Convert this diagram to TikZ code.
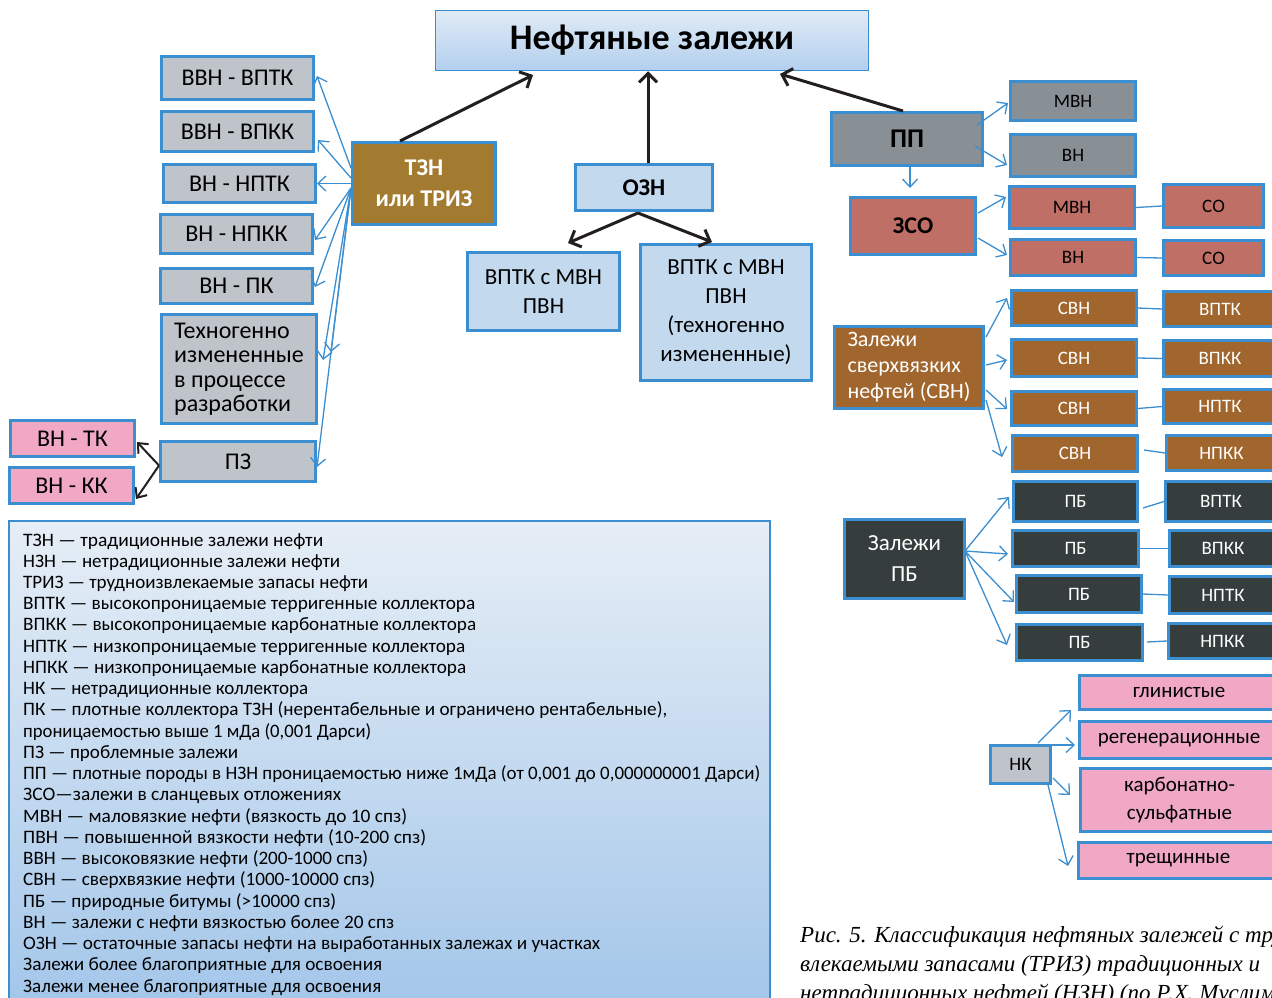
\documentclass[tikz,border=0pt]{standalone}
\usepackage{fontspec}
\usepackage{graphicx}
\setmainfont{Carlito}
\newfontfamily\capfont{Liberation Serif}
\usetikzlibrary{arrows.meta}
\definecolor{bord}{HTML}{3B8ED0}
\definecolor{grayf}{HTML}{BFC4CB}
\definecolor{tznf}{HTML}{A37B30}
\definecolor{lbf}{HTML}{C3D9EE}
\definecolor{ppf}{HTML}{888F95}
\definecolor{redf}{HTML}{C06F67}
\definecolor{brnf}{HTML}{A1662E}
\definecolor{pbf}{HTML}{353D3D}
\definecolor{pinkf}{HTML}{F0A8C4}
\definecolor{titletop}{HTML}{E0EBF6}
\definecolor{titlebot}{HTML}{B3CFEE}
\definecolor{legtop}{HTML}{E6EEF6}
\definecolor{legbot}{HTML}{A3C6EA}
\definecolor{arrk}{HTML}{231F20}
\newcommand\legfont{\fontsize{19}{21}\selectfont}
\newcommand\legl[3]{\node[anchor=base west, inner sep=0pt] (l#1) at (23,{546+21.24*(#1-1)}) {\resizebox{\dimexpr#2pt-23pt\relax}{\height}{\legfont #3}};}
\begin{document}
\begin{tikzpicture}[x=1pt,y=-1pt,
  bx/.style={draw=bord, line width=3pt, inner sep=0pt, align=center, font=\fontsize{24}{27}\selectfont},
  sm/.style={bx, font=\fontsize{19}{22}\selectfont},
  gbox/.style={bx, fill=grayf},
  lbox/.style={bx, fill=lbf, font=\fontsize{23}{29}\selectfont},
  barr/.style={draw=bord, line width=1.3pt, -{Straight Barb[length=8pt,width=15pt,line width=1.3pt]}},
  karr/.style={draw=arrk, line width=3pt, -{Straight Barb[length=9pt,width=18pt,line width=3pt]}},
  kthin/.style={draw=arrk, line width=2pt, -{Straight Barb[length=8pt,width=14pt,line width=2pt]}},
  conn/.style={draw=bord, line width=1.3pt},
  wh/.style={text=white}
]
\useasboundingbox (0,0) rectangle (1272,997);
\clip (0,0) rectangle (1272,997);

% legend panel
\shade[top color=legtop, bottom color=legbot, draw=bord, line width=1.2pt] (9,521) rectangle (770,1010);
\legl{1}{323}{ТЗН — традиционные залежи нефти}
\legl{2}{340}{НЗН — нетрадиционные залежи нефти}
\legl{3}{368}{ТРИЗ — трудноизвлекаемые запасы нефти}
\legl{4}{475}{ВПТК — высокопроницаемые терригенные коллектора}
\legl{5}{476}{ВПКК — высокопроницаемые карбонатные коллектора}
\legl{6}{465}{НПТК — низкопроницаемые терригенные коллектора}
\legl{7}{466}{НПКК — низкопроницаемые карбонатные коллектора}
\legl{8}{308}{НК — нетрадиционные коллектора}
\legl{9}{667}{ПК — плотные коллектора ТЗН (нерентабельные и ограничено рентабельные),}
\legl{10}{371}{проницаемостью выше 1 мДа (0,001 Дарси)}
\legl{11}{238}{ПЗ — проблемные залежи}
\legl{12}{760}{ПП — плотные породы в НЗН проницаемостью ниже 1мДа (от 0,001 до 0,000000001 Дарси)}
\legl{13}{341}{ЗСО—залежи в сланцевых отложениях}
\legl{14}{407}{МВН — маловязкие нефти (вязкость до 10 спз)}
\legl{15}{426}{ПВН — повышенной вязкости нефти (10-200 спз)}
\legl{16}{368}{ВВН — высоковязкие нефти (200-1000 спз)}
\legl{17}{375}{СВН — сверхвязкие нефти (1000-10000 спз)}
\legl{18}{336}{ПБ — природные битумы (>10000 спз)}
\legl{19}{394}{ВН — залежи с нефти вязкостью более 20 спз}
\legl{20}{600}{ОЗН — остаточные запасы нефти на выработанных залежах и участках}
\legl{21}{382}{Залежи более благоприятные для освоения}
\legl{22}{381}{Залежи менее благоприятные для освоения}

% caption
\begin{scope}[every node/.style={anchor=base west, inner sep=0pt, font=\capfont\itshape\fontsize{23}{23}\selectfont}]
\node (cap1) at (800,942) {Рис. 5. Классификация нефтяных залежей с трудноиз-};
\node (cap2) at (800,971) {влекаемыми запасами (ТРИЗ) традиционных и};
\node (cap3) at (800,1000) {нетрадиционных нефтей (НЗН) (по Р.Х. Муслимову)};
\end{scope}

% title
\node[draw=bord, line width=1.5pt, top color=titletop, bottom color=titlebot, minimum width=433pt, minimum height=60pt, font=\bfseries\fontsize{36}{40}\selectfont] (title) at (652,40.5) {Нефтяные залежи};

% left column
\node[gbox, minimum width=152pt, minimum height=43pt] (vvn1) at (237.5,78) {ВВН - ВПТК};
\node[gbox, minimum width=152pt, minimum height=40pt] (vvn2) at (237.5,131.5) {ВВН - ВПКК};
\node[gbox, minimum width=152pt, minimum height=38pt] (vn3) at (239.5,183.5) {ВН - НПТК};
\node[gbox, minimum width=152pt, minimum height=39pt] (vn4) at (236.5,234) {ВН - НПКК};
\node[gbox, minimum width=152pt, minimum height=35pt] (vn5) at (236.5,286) {ВН - ПК};
\node[gbox, minimum width=155pt, minimum height=109pt, align=left, font=\fontsize{24}{24.5}\selectfont] (tech) at (239,369) {Техногенно\\измененные\\в процессе\\разработки};
\node[gbox, minimum width=155pt, minimum height=40pt] (pz) at (238,461.5) {ПЗ};
\node[bx, fill=pinkf, minimum width=124pt, minimum height=36pt] (vntk) at (72.5,438.5) {ВН - ТК};
\node[bx, fill=pinkf, minimum width=124pt, minimum height=36pt] (vnkk) at (71.5,485.5) {ВН - КК};
\node[bx, fill=tznf, wh, minimum width=143pt, minimum height=82pt, font=\bfseries\fontsize{24}{31}\selectfont] (tzn) at (424,183.5) {ТЗН\\или ТРИЗ};

% center
\node[bx, fill=lbf, minimum width=137pt, minimum height=46pt, font=\bfseries\fontsize{24}{27}\selectfont] (ozn) at (644,187.5) {ОЗН};
\node[lbox, minimum width=152pt, minimum height=78pt] (ov1) at (543.5,291.5) {ВПТК с МВН\\ПВН};
\node[lbox, minimum width=171pt, minimum height=136pt] (ov2) at (726,312.5) {ВПТК с МВН\\ПВН\\(техногенно\\измененные)};

% right: PP
\node[bx, fill=ppf, minimum width=151pt, minimum height=53pt, font=\bfseries\fontsize{27}{30}\selectfont] (pp) at (907,139) {ПП};
\node[sm, fill=ppf, minimum width=125pt, minimum height=39pt] (ppm) at (1073,101) {МВН};
\node[sm, fill=ppf, minimum width=125pt, minimum height=42pt] (ppv) at (1073,155.5) {ВН};
\node[bx, fill=redf, minimum width=125pt, minimum height=57pt, font=\bfseries\fontsize{24}{27}\selectfont] (zso) at (913,226) {ЗСО};
\node[sm, fill=redf, minimum width=125pt, minimum height=42pt] (zm) at (1072,207.5) {МВН};
\node[sm, fill=redf, minimum width=125pt, minimum height=36pt] (zv) at (1073,257.5) {ВН};
\node[sm, fill=redf, minimum width=100pt, minimum height=43pt] (co1) at (1213.5,206) {СО};
\node[sm, fill=redf, minimum width=100pt, minimum height=35pt] (co2) at (1213.5,258) {СО};

% SVN
\node[bx, fill=brnf, wh, minimum width=149pt, minimum height=82pt, align=left, font=\fontsize{22}{26}\selectfont] (svn) at (909,367.5) {Залежи\\сверхвязких\\нефтей (СВН)};
\node[sm, fill=brnf, wh, minimum width=125pt, minimum height=35pt] (s1) at (1074,308) {СВН};
\node[sm, fill=brnf, wh, minimum width=125pt, minimum height=37pt] (s2) at (1074,358) {СВН};
\node[sm, fill=brnf, wh, minimum width=125pt, minimum height=34pt] (s3) at (1074,408.5) {СВН};
\node[sm, fill=brnf, wh, minimum width=125pt, minimum height=36pt] (s4) at (1075,453.5) {СВН};
\node[sm, fill=brnf, wh, minimum width=113pt, minimum height=35pt] (r1) at (1220,309) {ВПТК};
\node[sm, fill=brnf, wh, minimum width=113pt, minimum height=36pt] (r2) at (1220,358.5) {ВПКК};
\node[sm, fill=brnf, wh, minimum width=113pt, minimum height=34pt] (r3) at (1220,406.5) {НПТК};
\node[sm, fill=brnf, wh, minimum width=110pt, minimum height=35pt] (r4) at (1221.5,453) {НПКК};

% PB
\node[bx, fill=pbf, wh, minimum width=120pt, minimum height=79pt, font=\fontsize{23}{31}\selectfont] (pb) at (904.5,559) {Залежи\\ПБ};
\node[sm, fill=pbf, wh, minimum width=124pt, minimum height=40pt] (p1) at (1075.5,501.5) {ПБ};
\node[sm, fill=pbf, wh, minimum width=126pt, minimum height=36pt] (p2) at (1075.5,548.5) {ПБ};
\node[sm, fill=pbf, wh, minimum width=125pt, minimum height=37pt] (p3) at (1079,594) {ПБ};
\node[sm, fill=pbf, wh, minimum width=126pt, minimum height=36pt] (p4) at (1079.5,642.5) {ПБ};
\node[sm, fill=pbf, wh, minimum width=111pt, minimum height=40pt] (q1) at (1221,501.5) {ВПТК};
\node[sm, fill=pbf, wh, minimum width=107pt, minimum height=36pt] (q2) at (1223,548.5) {ВПКК};
\node[sm, fill=pbf, wh, minimum width=107pt, minimum height=37pt] (q3) at (1223,595) {НПТК};
\node[sm, fill=pbf, wh, minimum width=108pt, minimum height=35pt] (q4) at (1222.5,641) {НПКК};

% NK
\node[sm, fill=grayf, minimum width=60pt, minimum height=38pt] (nk) at (1020.5,764.5) {НК};
\node[bx, fill=pinkf, minimum width=199pt, minimum height=34pt, font=\fontsize{21}{28}\selectfont] (k1) at (1179,692.5) {глинистые};
\node[bx, fill=pinkf, minimum width=199pt, minimum height=37pt, font=\fontsize{21}{28}\selectfont] (k2) at (1179,740) {регенерационные};
\node[bx, fill=pinkf, minimum width=198pt, minimum height=63pt, font=\fontsize{21}{28}\selectfont] (k3) at (1179.5,800) {карбонатно-\\сульфатные};
\node[bx, fill=pinkf, minimum width=200pt, minimum height=36pt, font=\fontsize{21}{28}\selectfont] (k4) at (1178.5,860.5) {трещинные};

% black arrows to title
\draw[karr] ([xshift=-24pt]tzn.north) -- (533,75);
\draw[karr] ([xshift=4pt]ozn.north) -- ([xshift=-4pt]title.south);
\draw[karr] ([xshift=-4pt]pp.north) -- (780,74);
\coordinate (oznb) at (638,213);
\draw[karr] (oznb) -- (568,243);
\draw[karr] (oznb) -- (712,242);

% TZN fan
\coordinate (t1) at (351,168);
\coordinate (t2) at (351,178);
\coordinate (t3) at (351,188);
\draw[barr] (t1) -- (317,76);
\draw[barr] (t2) -- (318,140);
\draw[barr] (tzn.west |- vn3) -- (vn3.east);
\draw[barr] (t3) -- (315,240);
\draw[barr] (t3) -- (315,287);
\draw[barr] (t3) -- (323,360);
\draw[barr] (t3) -- (331,352);
\draw[barr] (t3) -- (317,467);

% PZ
\draw[kthin] ([yshift=-4pt]pz.west) -- (137,442);
\draw[kthin] ([yshift=-4pt]pz.west) -- (136,499);

% PP fan
\draw[barr] (977,125) -- (1008,103);
\draw[barr] (975,146) -- (1007,165);
\draw[barr] (pp.south -| 910,0) -- (910,188);
\draw[barr] (978,213) -- (1006,197);
\draw[barr] (978,238) -- (1007,255);
\draw[conn] (zm.east) -- (co1.west);
\draw[conn] (zv.east) -- (co2.west);

% SVN fan
\draw[barr] (986,337) -- (1007,298);
\draw[barr] (986,365) -- (1007,360);
\draw[barr] (986,390) -- (1007,409);
\draw[barr] (986,400) -- (1002,457);
\draw[conn] (s1.east) -- (r1.west);
\draw[conn] (s2.east) -- (r2.west);
\draw[conn] (s3.east) -- (r3.west);
\draw[conn] (1144,450) -- (r4.west);

% PB fan
\coordinate (pbo) at (965,551);
\draw[barr] (pbo) -- (1009,497);
\draw[barr] (pbo) -- (1008,554);
\draw[barr] (pbo) -- (1014,602);
\draw[barr] (pbo) -- (1007,645);
\draw[conn] (1143,508) -- (q1.west);
\draw[conn] (p2.east) -- (q2.west);
\draw[conn] (p3.east) -- (q3.west);
\draw[conn] (1147,642) -- (q4.west);

% NK fan
\draw[barr] (1038,743) -- (1071,710);
\draw[barr] (1050,745) -- (1075,745);
\draw[barr] (1053,778) -- (1070,795);
\draw[barr] (1048,785) -- (1068,866);
\end{tikzpicture}
\end{document}
